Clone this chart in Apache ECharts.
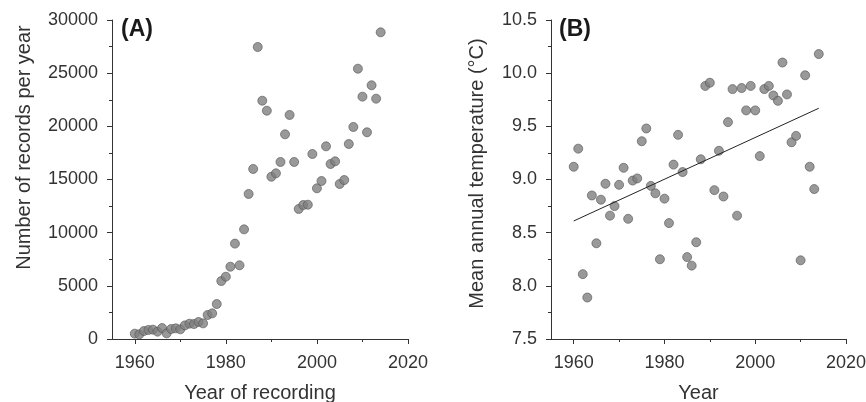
<!DOCTYPE html>
<html>
<head>
<meta charset="utf-8">
<script src="https://cdn.jsdelivr.net/npm/echarts@6/dist/echarts.min.js"></script>
<style>
  html, body { margin: 0; padding: 0; background: #fff; }
  #chart { width: 866px; height: 402px; }
</style>
</head>
<body>
<div id="chart"></div>
<script>
// panel A: records per year
var yearsA = [1960,1961,1962,1963,1964,1965,1966,1967,1968,1969,1970,1971,1972,1973,1974,1975,1976,1977,1978,1979,
  1980,1981,1982,1983,1984,1985,1986,1987,1988,1989,1990,1991,1992,1993,1994,1995,1996,1997,1998,1999,
  2000,2001,2002,2003,2004,2005,2006,2007,2008,2009,2010,2011,2012,2013,2014];
var records = [500,440,750,850,880,690,1030,530,940,1000,910,1280,1440,1410,1600,1470,2260,2410,3290,5450,
  5860,6800,8970,6930,10310,13640,15990,27460,22410,21470,15260,15580,16650,19250,21070,16650,12230,12600,12630,17400,
  14170,14860,18120,16460,16710,14580,14950,18340,19940,25420,22790,19440,23860,22600,28840];

// panel B: mean annual temperature
var yearsB = yearsA;
var temps = [9.12,9.29,8.11,7.89,8.85,8.40,8.81,8.96,8.66,8.75,8.95,9.11,8.63,8.99,9.01,9.36,9.48,8.94,8.87,8.25,
  8.82,8.59,9.14,9.42,9.07,8.27,8.19,8.41,9.19,9.88,9.91,8.90,9.27,8.84,9.54,9.85,8.66,9.86,9.65,9.88,
  9.65,9.22,9.85,9.88,9.79,9.74,10.10,9.80,9.35,9.41,8.24,9.98,9.12,8.91,10.18];
var trendYears = [1960, 2014];
var trendTemps = [8.61, 9.67];

var majorYears = [1960, 1980, 2000, 2020];
var minorYears = [1970, 1990, 2010];

function pairs(xs, ys) {
  return xs.map(function (x, i) { return [x, ys[i]]; });
}

var axisColor = '#333';
var labelStyle = { color: '#333', fontSize: 18, fontFamily: 'Liberation Sans, Arial' };
var nameStyle = { color: '#333', fontSize: 20, fontFamily: 'Liberation Sans, Arial' };

function xMain(grid, name) {
  return {
    type: 'value', gridIndex: grid, position: 'bottom', min: 1955, max: 2020,
    name: name, nameLocation: 'middle', nameGap: 44, nameTextStyle: nameStyle,
    axisLine: { show: true, lineStyle: { color: axisColor, width: 1 } },
    axisTick: { show: true, length: 5, customValues: majorYears, lineStyle: { color: axisColor } },
    axisLabel: Object.assign({ customValues: majorYears, margin: 15, formatter: function (v) { return String(v); } }, labelStyle),
    splitLine: { show: false }
  };
}
function xMinor(grid) {
  return {
    type: 'value', gridIndex: grid, position: 'bottom', min: 1955, max: 2020,
    axisLine: { show: false },
    axisTick: { show: true, length: 3, customValues: minorYears, lineStyle: { color: axisColor } },
    axisLabel: { show: false },
    splitLine: { show: false }
  };
}
function yAxis(grid, min, max, step, name, gap, pad, fmt) {
  return {
    type: 'value', gridIndex: grid, min: min, max: max, interval: step,
    name: name, nameLocation: 'middle', nameGap: gap,
    nameTextStyle: Object.assign({ padding: pad }, nameStyle),
    axisLine: { show: true, lineStyle: { color: axisColor, width: 1 } },
    axisTick: { show: true, length: 5, lineStyle: { color: axisColor } },
    minorTick: { show: true, splitNumber: 2, length: 3, lineStyle: { color: axisColor } },
    axisLabel: Object.assign({ margin: 14, formatter: fmt }, labelStyle),
    splitLine: { show: false }
  };
}

var dotStyle = { color: '#7f7f7f', borderColor: '#555', borderWidth: 0.8 };

var chart = echarts.init(document.getElementById('chart'));
chart.setOption({
  animation: false,
  title: [
    { text: '(A)', left: 116, top: 13, textStyle: { fontSize: 23, fontWeight: 'bold', color: '#1a1a1a', fontFamily: 'Liberation Sans, Arial' } },
    { text: '(B)', left: 554, top: 13, textStyle: { fontSize: 23, fontWeight: 'bold', color: '#1a1a1a', fontFamily: 'Liberation Sans, Arial' } }
  ],
  grid: [
    { left: 112, top: 20, width: 296, height: 319, outerBoundsMode: 'none', containLabel: false },
    { left: 551, top: 20, width: 295, height: 319, outerBoundsMode: 'none', containLabel: false }
  ],
  xAxis: [xMain(0, 'Year of recording'), xMinor(0), xMain(1, 'Year'), xMinor(1)],
  yAxis: [
    yAxis(0, 0, 30000, 5000, 'Number of records per year', 78, [0, 0, 0, 64], function (v) { return String(v); }),
    yAxis(1, 7.5, 10.5, 0.5, 'Mean annual temperature (\u00B0C)', 64, [0, 0, 0, 12], function (v) { return v.toFixed(1); })
  ],
  series: [
    { type: 'scatter', xAxisIndex: 0, yAxisIndex: 0, data: pairs(yearsA, records), symbolSize: 9, itemStyle: dotStyle },
    { type: 'line', xAxisIndex: 2, yAxisIndex: 1, data: pairs(trendYears, trendTemps), symbol: 'none',
      lineStyle: { color: '#222', width: 1 } },
    { type: 'scatter', xAxisIndex: 2, yAxisIndex: 1, data: pairs(yearsB, temps), symbolSize: 9, itemStyle: dotStyle }
  ]
});
</script>
</body>
</html>
